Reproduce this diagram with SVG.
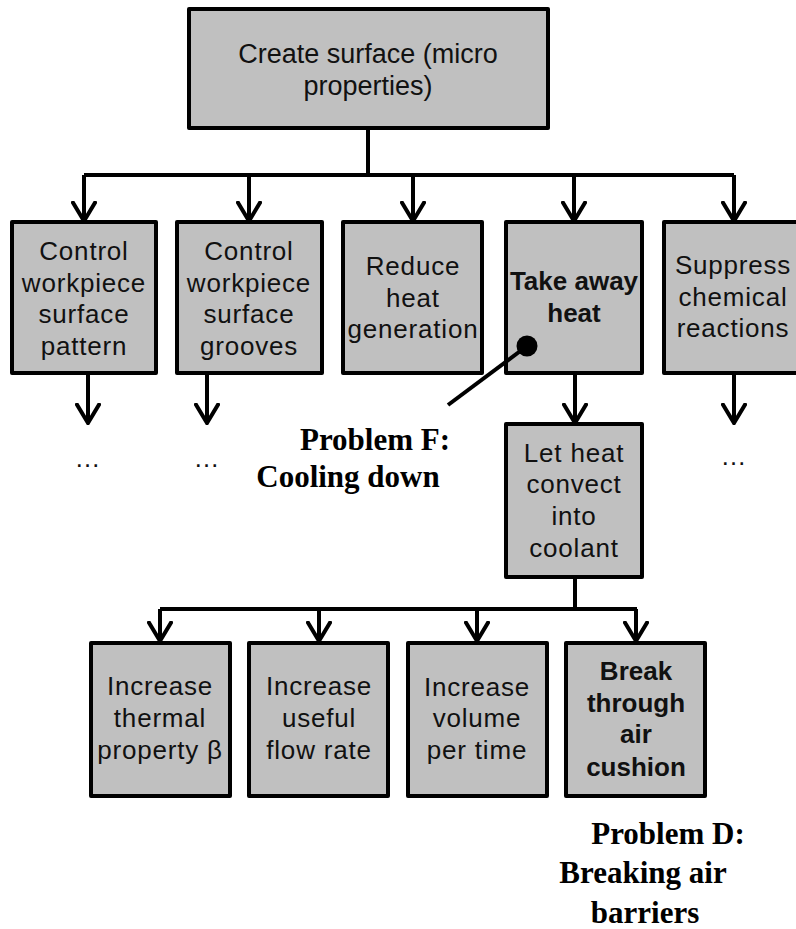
<svg xmlns="http://www.w3.org/2000/svg" width="796" height="929" viewBox="0 0 796 929">
<style>
.box{fill:#c0c0c0;stroke:#000;stroke-width:4;stroke-linejoin:round}
.t{font-family:"Liberation Sans",Arial,sans-serif;font-size:26px;fill:#111;text-anchor:middle;letter-spacing:0.8px}
.tb{font-family:"Liberation Sans",Arial,sans-serif;font-size:26px;font-weight:bold;fill:#111;text-anchor:middle}
.p{font-family:"Liberation Serif","Times New Roman",serif;font-size:31px;font-weight:bold;fill:#000;text-anchor:middle}
.c{fill:none;stroke:#000;stroke-width:4}
</style>
<defs>
<marker id="ah" viewBox="0 0 22 26" refX="20" refY="13" markerWidth="22" markerHeight="26" markerUnits="userSpaceOnUse" orient="auto">
<path d="M0,1 L20,13 L0,25" fill="none" stroke="#000" stroke-width="4"/>
</marker>
</defs>
<g id="n-top"><rect class="box" x="189" y="9" width="359" height="119"/>
<text class="t" style="font-size:27px;letter-spacing:0" x="368" y="63">Create surface (micro</text>
<text class="t" style="font-size:27px;letter-spacing:0" x="368" y="95">properties)</text></g>
<g id="n-pattern"><rect class="box" x="12" y="222" width="144" height="151"/>
<text class="t" x="84" y="260">Control</text><text class="t" x="84" y="292">workpiece</text><text class="t" x="84" y="323">surface</text><text class="t" x="84" y="355">pattern</text></g>
<g id="n-grooves"><rect class="box" x="177" y="222" width="145" height="151"/>
<text class="t" x="249" y="260">Control</text><text class="t" x="249" y="292">workpiece</text><text class="t" x="249" y="323">surface</text><text class="t" x="249" y="355">grooves</text></g>
<g id="n-reduce"><rect class="box" x="343" y="222" width="139" height="151"/>
<text class="t" x="413" y="275">Reduce</text><text class="t" x="413" y="307">heat</text><text class="t" x="413" y="338">generation</text></g>
<g id="n-takeaway"><rect class="box" x="506" y="222" width="136" height="151"/>
<text class="tb" x="574" y="290">Take away</text><text class="tb" x="574" y="322">heat</text></g>
<g id="n-suppress"><rect class="box" x="664" y="222" width="138" height="151"/>
<text class="t" x="733" y="274">Suppress</text><text class="t" x="733" y="306">chemical</text><text class="t" x="733" y="337">reactions</text></g>
<g id="dots">
<text class="t" x="88" y="467">…</text><text class="t" x="207" y="467">…</text><text class="t" x="734" y="465">…</text></g>
<g id="n-convect"><rect class="box" x="506" y="424" width="136" height="153"/>
<text class="t" x="574" y="462">Let heat</text><text class="t" x="574" y="493">convect</text><text class="t" x="574" y="525">into</text><text class="t" x="574" y="557">coolant</text></g>
<g id="n-thermal"><rect class="box" x="91" y="643" width="139" height="153"/>
<text class="t" x="160" y="695">Increase</text><text class="t" x="160" y="727">thermal</text><text class="t" x="160" y="759">property β</text></g>
<g id="n-flow"><rect class="box" x="249" y="643" width="139" height="153"/>
<text class="t" x="319" y="695">Increase</text><text class="t" x="319" y="727">useful</text><text class="t" x="319" y="759">flow rate</text></g>
<g id="n-volume"><rect class="box" x="408" y="643" width="139" height="153"/>
<text class="t" x="477" y="696">Increase</text><text class="t" x="477" y="727">volume</text><text class="t" x="477" y="759">per time</text></g>
<g id="n-break"><rect class="box" x="566" y="643" width="139" height="153"/>
<text class="tb" x="636" y="680">Break</text><text class="tb" x="636" y="712">through</text><text class="tb" x="636" y="743">air</text><text class="tb" x="636" y="776">cushion</text></g>
<g id="label-F">
<text class="p" x="375" y="450">Problem F:</text><text class="p" x="348" y="487">Cooling down</text></g>
<g id="label-D">
<text class="p" x="668" y="844">Problem D:</text><text class="p" x="643" y="883">Breaking air</text><text class="p" x="645" y="923">barriers</text></g>
<g id="connectors" class="c">
<path d="M368,128 V175 M84,175 H734"/>
<line x1="84" y1="175" x2="84" y2="221" marker-end="url(#ah)"/>
<line x1="249" y1="175" x2="249" y2="221" marker-end="url(#ah)"/>
<line x1="413" y1="175" x2="413" y2="221" marker-end="url(#ah)"/>
<line x1="574" y1="175" x2="574" y2="221" marker-end="url(#ah)"/>
<line x1="734" y1="175" x2="734" y2="221" marker-end="url(#ah)"/>
<line x1="88" y1="373" x2="88" y2="423" marker-end="url(#ah)"/>
<line x1="207" y1="373" x2="207" y2="423" marker-end="url(#ah)"/>
<line x1="734" y1="373" x2="734" y2="423" marker-end="url(#ah)"/>
<line x1="575" y1="373" x2="575" y2="423" marker-end="url(#ah)"/>
<path d="M575,577 V609 M160,609 H637"/>
<line x1="160" y1="609" x2="160" y2="641" marker-end="url(#ah)"/>
<line x1="319" y1="609" x2="319" y2="641" marker-end="url(#ah)"/>
<line x1="477" y1="609" x2="477" y2="641" marker-end="url(#ah)"/>
<line x1="636" y1="609" x2="636" y2="641" marker-end="url(#ah)"/>
<line x1="527" y1="346" x2="448" y2="405"/>
<circle cx="527" cy="346" r="10.5" fill="#000" stroke="none"/>
</g>
</svg>
